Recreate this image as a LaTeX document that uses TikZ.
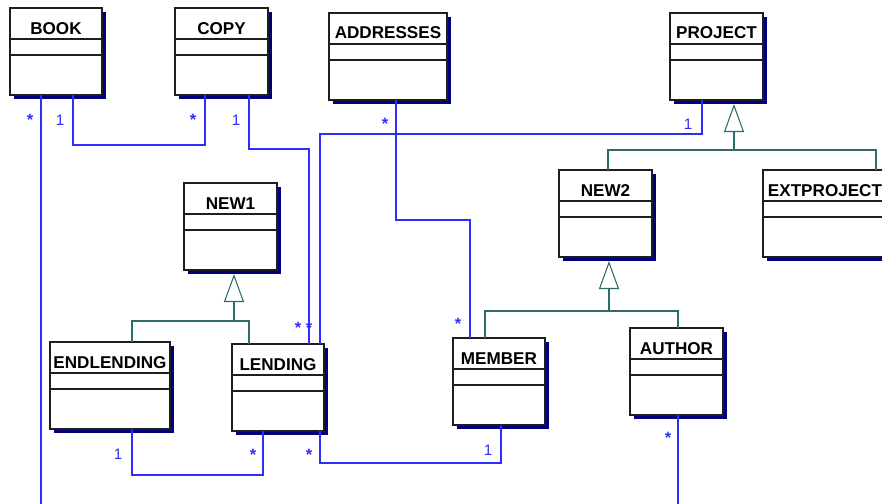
\documentclass[tikz,border=0pt]{standalone}
\usepackage{fontspec}
\setmainfont{Liberation Sans}
\usetikzlibrary{fit,arrows.meta}

\definecolor{assocblue}{RGB}{45,45,255}
\definecolor{genteal}{RGB}{47,107,107}
\definecolor{shadownavy}{RGB}{0,0,128}
\definecolor{boxline}{RGB}{30,30,30}

\tikzset{
  classbox/.style={draw=boxline,line width=0.9pt,fill=white,inner sep=0pt,outer sep=0pt},
  classshadow/.style={fill=shadownavy},
  classtitle/.style={font=\bfseries\fontsize{14.6}{16}\selectfont,inner sep=0pt,anchor=base},
  assoc/.style={draw=assocblue,line width=0.9pt},
  gen/.style={draw=genteal,line width=0.9pt},
  genarrow/.style={gen,-{Triangle[open,length=0.84cm,width=0.6cm,fill=white]}},
  mult/.style={text=assocblue,font=\fontsize{13}{15}\selectfont,inner sep=0pt,anchor=base},
  multstar/.style={mult,font=\bfseries\fontsize{14}{15}\selectfont}
}

\begin{document}
\begin{tikzpicture}[x=0.03cm,y=-0.03cm]
\useasboundingbox (0,0) rectangle (882,504);
\clip (0,0) rectangle (882,504);

% classes: name/left/right/top/title
\foreach \n/\xa/\xb/\yt/\t in {book/10/102/8/BOOK, copy/175/268/8/COPY,
    addresses/329/447/13/ADDRESSES, project/670/763/13/PROJECT,
    new1/184/277/183/NEW1, new2/559/652/170/NEW2, extproject/763/887/170/EXTPROJECT,
    endlending/50/170/342/ENDLENDING, lending/232/324/344/LENDING,
    member/453/545/338/MEMBER, author/630/723/328/AUTHOR}{
  \fill[classshadow] (\xa+4,\yt+4) rectangle (\xb+4,\yt+91);
  \node[classbox,fit={(\xa,\yt) (\xb,\yt+87)}] (\n) {};
  \draw[classbox] (\xa,\yt+31) -- (\xb,\yt+31) (\xa,\yt+47) -- (\xb,\yt+47);
  \node[classtitle] (\n-title) at (\xa/2+\xb/2,\yt+26) {\t};
}

% associations
\draw[assoc] (41,0 |- book.south) -- (41,520) -| (678,0 |- author.south);
\draw[assoc] (73,0 |- book.south) -- (73,145) -| (205,0 |- copy.south);
\draw[assoc] (249,0 |- copy.south) -- (249,149) -| (309,0 |- lending.north);
\draw[assoc] (702,0 |- project.south) -- (702,134) -| (320,0 |- lending.north);
\draw[assoc] (396,0 |- addresses.south) -- (396,220) -| (470,0 |- member.north);
\draw[assoc] (501,0 |- member.south) -- (501,463) -| (320,0 |- lending.south);
\draw[assoc] (263,0 |- lending.south) -- (263,475) -| (132,0 |- endlending.south);

% generalizations
\draw[gen] (132,0 |- endlending.north) |- (249,321) -- (249,0 |- lending.north);
\draw[genarrow] (234,321) -- ([yshift=-0.12cm]new1.south -| 234,0);
\draw[gen] (608,0 |- new2.north) |- (876,150) -- (876,0 |- extproject.north);
\draw[genarrow] (734,150) -- ([yshift=-0.12cm]project.south -| 734,0);
\draw[gen] (485,0 |- member.north) |- (678,311) -- (678,0 |- author.north);
\draw[genarrow] (609,311) -- ([yshift=-0.12cm]new2.south -| 609,0);

% multiplicities
\foreach \i/\x/\y in {2/60/125, 4/236/125, 6/688/129, 10/488/455, 13/118/459}
  \node[mult] (m\i) at (\x,\y) {1};
\foreach \i/\x/\y in {1/30/125, 3/193/125, 5/385/129, 7/298/333, 8/309/333,
    9/458/329, 11/309/460, 12/253/460, 14/668/443}
  \node[multstar] (m\i) at (\x,\y) {*};

\end{tikzpicture}
\end{document}
